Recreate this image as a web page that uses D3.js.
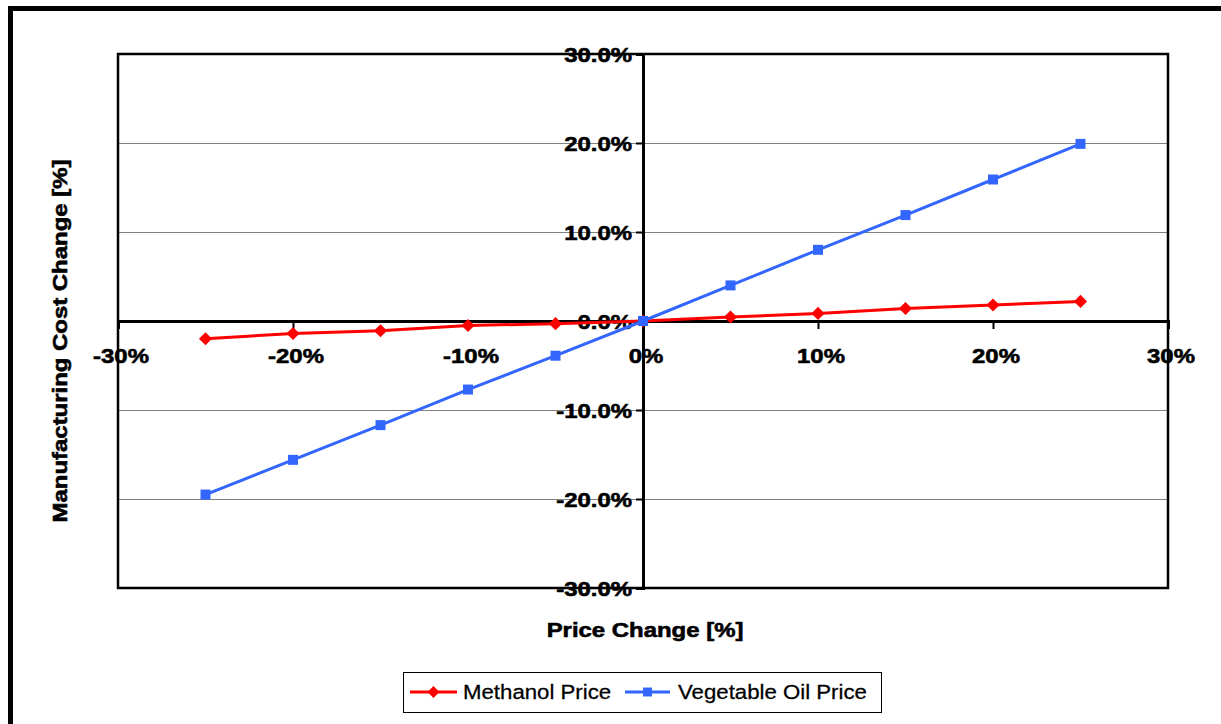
<!DOCTYPE html>
<html>
<head>
<meta charset="utf-8">
<script src="https://cdn.jsdelivr.net/npm/d3@7"></script>
<style>
  html, body { margin: 0; padding: 0; background: #fff; }
  svg { display: block; }
  text { font-family: "Liberation Sans", Arial, sans-serif; fill: #000; }
</style>
</head>
<body>
<svg id="chart" width="1221" height="724"></svg>
<script>
// Price change applied to each input (fraction)
const priceChange = [-0.25, -0.20, -0.15, -0.10, -0.05, 0, 0.05, 0.10, 0.15, 0.20, 0.25];
// Resulting manufacturing cost change (%)
const methanolCost = [-2.0, -1.4, -1.1, -0.5, -0.3, 0, 0.45, 0.85, 1.4, 1.8, 2.2];
const vegOilCost = [-19.5, -15.6, -11.7, -7.7, -3.9, 0, 4.0, 8.0, 11.9, 15.9, 19.9];
// Axis ticks
const xTicks = [-0.3, -0.2, -0.1, 0, 0.1, 0.2, 0.3];
const xTickLabels = ["-30%", "-20%", "-10%", "0%", "10%", "20%", "30%"];
const yTicks = [-0.3, -0.2, -0.1, 0, 0.1, 0.2, 0.3];
const yTickLabels = ["-30.0%", "-20.0%", "-10.0%", "0.0%", "10.0%", "20.0%", "30.0%"];
const seriesNames = ["Methanol Price", "Vegetable Oil Price"];
const seriesColors = ["#ff0000", "#3366ff"];

const svg = d3.select("#chart");
const plot = { left: 118, right: 1168, top: 54, bottom: 588 };
const x = d3.scaleLinear().domain([-0.3, 0.3]).range([plot.left, plot.right]);
const y = d3.scaleLinear().domain([-0.3, 0.3]).range([plot.bottom, plot.top]);
const STRETCH = 1.14;

function label(g, tx, ty, str, opts = {}) {
  const rot = opts.rotate ? ` rotate(${opts.rotate})` : "";
  const t = g.append("text")
    .attr("transform", `translate(${tx},${ty})${rot} scale(${STRETCH},1)`)
    .attr("text-anchor", opts.anchor || "middle")
    .attr("font-size", opts.size || 21)
    .attr("font-weight", opts.weight || "bold")
    .text(str);
  if ((opts.weight || "bold") === "bold") {
    t.attr("stroke", "#000").attr("stroke-width", 0.6);
  } else {
    t.attr("stroke", "#000").attr("stroke-width", 0.25);
  }
  return t;
}

// outer chart border
svg.append("rect")
  .attr("x", 10.5).attr("y", 8.5)
  .attr("width", 1240).attr("height", 740)
  .attr("fill", "none").attr("stroke", "#000").attr("stroke-width", 5);

// horizontal gridlines
svg.append("g").selectAll("line")
  .data(yTicks.filter(v => v !== 0))
  .join("line")
  .attr("x1", plot.left).attr("x2", plot.right)
  .attr("y1", d => Math.round(y(d)) + 0.5).attr("y2", d => Math.round(y(d)) + 0.5)
  .attr("stroke", "#808080").attr("stroke-width", 1);

// plot frame
svg.append("rect")
  .attr("x", plot.left).attr("y", plot.top)
  .attr("width", plot.right - plot.left).attr("height", plot.bottom - plot.top)
  .attr("fill", "none").attr("stroke", "#000").attr("stroke-width", 2.5);

// x axis through y = 0
const xAxis = d3.axisBottom(x)
  .tickValues(xTicks)
  .tickSize(8)
  .tickFormat("");
const gx = svg.append("g").attr("transform", `translate(0,${y(0)})`).call(xAxis);
gx.select(".domain").attr("stroke", "#000").attr("stroke-width", 3);
gx.selectAll(".tick line").attr("stroke", "#000").attr("stroke-width", 2);
xTicks.forEach((v, i) => label(svg, x(v) + 3, y(0) + 42, xTickLabels[i]));

// y axis through x = 0
const yAxis = d3.axisLeft(y)
  .tickValues(yTicks)
  .tickSize(7)
  .tickFormat("");
const gy = svg.append("g").attr("transform", `translate(${x(0)},0)`).call(yAxis);
gy.select(".domain").attr("stroke", "#000").attr("stroke-width", 3);
gy.selectAll(".tick line").attr("stroke", "#000").attr("stroke-width", 2);
yTicks.forEach((v, i) => label(svg, x(0) - 11, y(v) + 7.5, yTickLabels[i], { anchor: "end" }));

// series
const series = [methanolCost, vegOilCost];
const line = d3.line().x(d => x(d[0])).y(d => y(d[1] / 100));
const diamond = d3.symbol().type(d3.symbolDiamond2).size(110);
const square = d3.symbol().type(d3.symbolSquare).size(100);

series.forEach((vals, si) => {
  const pts = priceChange.map((p, i) => [p, vals[i]]);
  svg.append("path")
    .attr("d", line(pts))
    .attr("fill", "none")
    .attr("stroke", seriesColors[si])
    .attr("stroke-width", 3);
  svg.append("g").selectAll("path")
    .data(pts)
    .join("path")
    .attr("transform", d => `translate(${x(d[0])},${y(d[1] / 100)})`)
    .attr("d", si === 0 ? diamond : square)
    .attr("fill", seriesColors[si]);
});

// axis titles
label(svg, 645, 637, "Price Change [%]");
label(svg, 67, 341, "Manufacturing Cost Change [%]", { rotate: -90 });

// legend
const lg = svg.append("g");
lg.append("rect")
  .attr("x", 403.5).attr("y", 672.5)
  .attr("width", 478).attr("height", 40)
  .attr("fill", "#fff").attr("stroke", "#000").attr("stroke-width", 1);
const legendItems = [
  { x1: 410, x2: 457, tx: 463 },
  { x1: 625, x2: 670, tx: 678 }
];
const legendDiamond = d3.symbol().type(d3.symbolDiamond2).size(90);
const legendSquare = d3.symbol().type(d3.symbolSquare).size(80);
legendItems.forEach((it, i) => {
  lg.append("line")
    .attr("x1", it.x1).attr("x2", it.x2)
    .attr("y1", 692).attr("y2", 692)
    .attr("stroke", seriesColors[i]).attr("stroke-width", 3);
  lg.append("path")
    .attr("transform", `translate(${(it.x1 + it.x2) / 2},692)`)
    .attr("d", i === 0 ? legendDiamond : legendSquare)
    .attr("fill", seriesColors[i]);
  label(lg, it.tx, 699, seriesNames[i], { anchor: "start", size: 19.5, weight: "normal" });
});
</script>
</body>
</html>
